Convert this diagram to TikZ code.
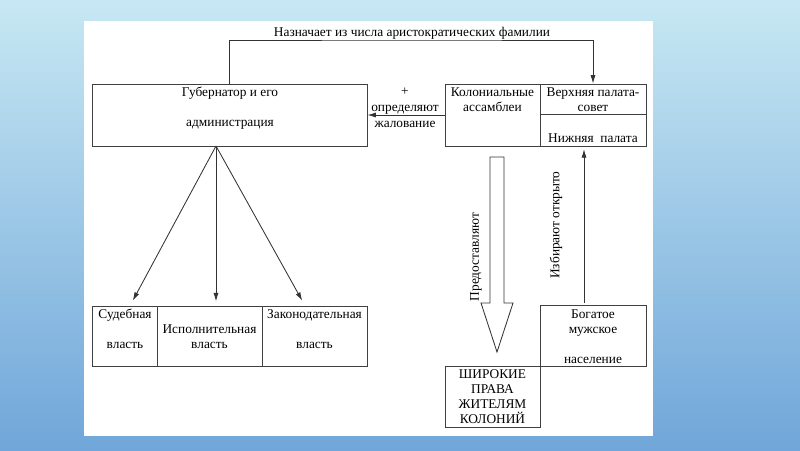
\documentclass[tikz,border=0pt]{standalone}
\usepackage{fontspec}
\setmainfont{Liberation Serif}
\usetikzlibrary{arrows.meta}
\definecolor{bgtop}{RGB}{199,232,243}
\definecolor{bgbot}{RGB}{112,166,217}
\tikzstyle{bx}=[draw=black!75,line width=0.6pt,inner sep=0pt]
\tikzstyle{txt}=[font=\fontsize{9.5}{10.5}\selectfont,inner sep=0pt,align=center]
\tikzstyle{arr}=[draw=black!80,line width=0.6pt,-{Latex[length=6pt,width=3.6pt]}]

\begin{document}
\begin{tikzpicture}[x=0.025cm,y=-0.025cm]
\shade[top color=bgtop,bottom color=bgbot] (0,0) rectangle (800,450);
\fill[white] (84,21) rectangle (653,436);
% top row
\node[bx,minimum width=6.875cm,minimum height=1.55cm] (gov) at (229.5,115) {};
\node[bx,minimum width=2.375cm,minimum height=1.55cm] (colony) at (492.5,115) {};
\node[bx,minimum width=2.65cm,minimum height=0.75cm] (upper) at (593,99) {};
\node[bx,minimum width=2.65cm,minimum height=0.8cm] (lower) at (593,130) {};
\node[txt] (govt) at (230,108) {Губернатор и его\\[10.8pt]администрация};
\node[txt] (colonyt) at (492.5,100) {Колониальные\\ассамблеи};
\node[txt] (uppert) at (593,100) {Верхняя палата-\\совет};
\node[txt] (lowert) at (593,138) {Нижняя\ \ палата};
% bottom row
\node[bx,minimum width=1.625cm,minimum height=1.5cm] (court) at (124.5,336) {};
\node[bx,minimum width=2.625cm,minimum height=1.5cm] (exec) at (209.5,336) {};
\node[bx,minimum width=2.625cm,minimum height=1.5cm] (legis) at (314.5,336) {};
\node[txt] (courtt) at (125,329) {Судебная\\[10.8pt]власть};
\node[txt] (exect) at (209.5,336.5) {Исполнительная\\власть};
\node[txt] (legist) at (314.5,329) {Законодательная\\[10.8pt]власть};
\node[bx,minimum width=2.375cm,minimum height=1.525cm] (rights) at (492.5,396.5) {};
\node[bx,minimum width=2.65cm,minimum height=1.525cm] (rich) at (593,335.5) {};
\node[txt] (rightst) at (492.5,396.5) {ШИРОКИЕ\\ПРАВА\\ЖИТЕЛЯМ\\КОЛОНИЙ};
\node[txt] (richt) at (593,336.5) {Богатое\\мужское\\[10.8pt]население};
% connectors
\coordinate (appoint) at (412,40);
\node[txt] (appointt) at (412,33) {Назначает из числа аристократических фамилии};
\draw[arr] (gov.north) |- (appoint) -| (upper.north);
\draw[arr] (colony.west) -- (gov.east);
\node[txt] (payt) at (405,107.5) {+\\[1pt]определяют\\[1pt]жалование};
\coordinate (fan) at (216,146);
\draw[arr,shorten >=4pt] (fan) -- ([xshift=4pt]court.north);
\draw[arr,shorten >=3pt] (fan) -- (fan |- exec.north);
\draw[arr,shorten >=4pt] (fan) -- ([xshift=-6.8pt]legis.north);
% hollow arrow
\draw[draw=black!80,line width=0.6pt] (490,157) -- (504,157) -- (504,303) -- (513,303) -- (497,352) -- (481,303) -- (490,303) -- cycle;
\node[txt,rotate=90] (givet) at (476,257) {Предоставляют};
\coordinate (elect) at (584,0);
\draw[arr,shorten <=1pt,shorten >=2pt] (rich.north -| elect) -- (lower.south -| elect);
\node[txt,rotate=90] (electt) at (556,225) {Избирают открыто};
\end{tikzpicture}
\end{document}
